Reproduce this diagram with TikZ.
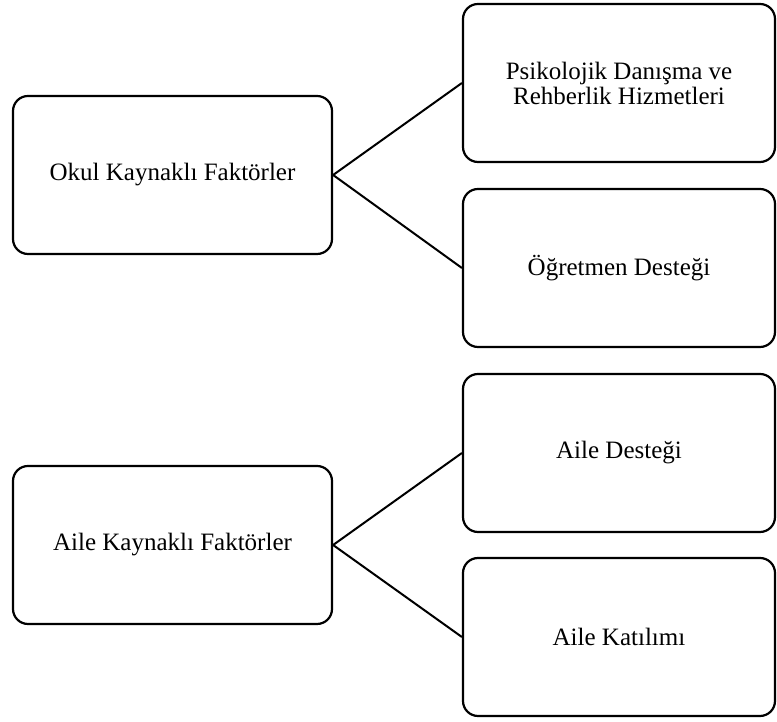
\documentclass[tikz,border=0pt]{standalone}
\usepackage{fontspec}
\setmainfont{Liberation Serif}
\usetikzlibrary{positioning}

\begin{document}
\begin{tikzpicture}[
  x=1pt, y=1pt,
  every node/.style={font=\fontsize{25}{25}\selectfont},
  factor/.style={rectangle, draw, line width=2.2pt, rounded corners=15pt, align=center, minimum width=319pt, minimum height=158pt},
  item/.style={factor, minimum width=312pt},
  link/.style={line width=2pt},
]
\useasboundingbox (0,0) rectangle (777,722);

% school factors
\node[factor] (okul) at (172.5, 547) {Okul Kaynaklı Faktörler};
\node[item] (pdr) at (619, 639) {Psikolojik Danışma ve\\Rehberlik Hizmetleri};
\node[item] (ogretmen) at (619, 454) {Öğretmen Desteği};

% family factors
\node[factor] (aile) at (172.5, 177) {Aile Kaynaklı Faktörler};
\node[item] (destek) at (619, 269) {Aile Desteği};
\node[item] (katilim) at (619, 85) {Aile Katılımı};

% links
\draw[link] (okul.east) -- (pdr.west);
\draw[link] (okul.east) -- (ogretmen.west);
\draw[link] (aile.east) -- (destek.west);
\draw[link] (aile.east) -- (katilim.west);

\end{tikzpicture}
\end{document}
